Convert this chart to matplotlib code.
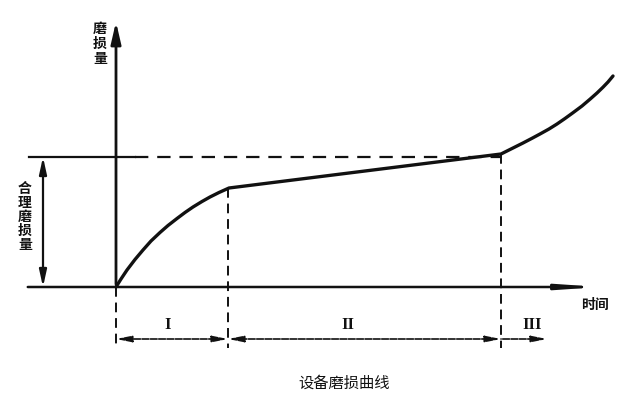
import matplotlib.pyplot as plt

plt.rcParams['font.family'] = ['Noto Sans CJK SC', 'DejaVu Sans']

# 曲线数据（时间, 磨损量）
t_I = [0, 5, 11, 19, 27, 35, 44, 52, 61, 69, 77, 86, 94, 103, 113]
w_I = [0, 8, 17, 27.5, 37, 46, 54.5, 61.5, 68.5, 74.5, 80, 85.5, 90, 94.5, 99]
t_II = [113, 385]
w_II = [99, 133]
t_III = [385, 391, 399, 407, 416, 424, 433, 441, 449, 457, 466, 474, 481, 487, 492, 497]
w_III = [133, 136, 140, 144, 148.7, 153, 158, 163, 168.5, 174.3, 181, 187.8, 194, 199.8, 205, 211]

w_limit = 130          # 合理磨损量
t_bounds = [0, 112, 385]
t_end = 431
dim_y = -52
phase_labels = ['I', 'II', 'III']
phase_x = [52, 232, 416]

fig = plt.figure(figsize=(6.4, 3.98), dpi=100)
ax = fig.add_axes([0, 0, 1, 1])
ax.set_xlim(-116, 524)
ax.set_ylim(-111, 287)
ax.axis('off')

k = '#111111'

# 磨损曲线
ax.plot(t_I + t_II[1:] + t_III[1:], w_I + w_II[1:] + w_III[1:], color=k, lw=2.4,
        solid_capstyle='round', solid_joinstyle='round')

# 坐标轴
ax.annotate('', xy=(0, 268), xytext=(0, 0),
            arrowprops=dict(arrowstyle='-|>,head_length=1.3,head_width=0.3', color=k, lw=2))
ax.annotate('', xy=(487, 0), xytext=(-91, 0),
            arrowprops=dict(arrowstyle='-|>,head_length=2.2,head_width=0.15', color=k, lw=1.8))

# 合理磨损量线
ax.plot([-87, 19], [w_limit, w_limit], color=k, lw=1.6)
ax.plot([19, t_bounds[2]], [w_limit, w_limit], color=k, lw=1.6, ls=(0, (6, 4)))
ax.annotate('', xy=(-73, w_limit), xytext=(-73, 0),
            arrowprops=dict(arrowstyle='<|-|>,head_length=1.0,head_width=0.22', color=k, lw=1.6,
                            shrinkA=0, shrinkB=0))

# 分界虚线
ax.plot([0, 0], [0, -61], color=k, lw=1.4, ls=(0, (5, 3)))
ax.plot([t_bounds[1]] * 2, [w_I[-1], -61], color=k, lw=1.4, ls=(0, (5, 3)))
ax.plot([t_bounds[2]] * 2, [w_II[-1], -61], color=k, lw=1.4, ls=(0, (5, 3)))

# 阶段尺寸线
edges = t_bounds + [t_end]
for i in range(3):
    style = '<|-|>,head_length=0.9,head_width=0.18'
    if i == 2:
        style = '<|-,head_length=0.9,head_width=0.18'
    ax.annotate('', xy=(edges[i], dim_y), xytext=(edges[i + 1], dim_y),
                arrowprops=dict(arrowstyle=style, color=k, lw=1.2, shrinkA=0, shrinkB=0,
                                ls=(0, (4, 1))))
    ax.text(phase_x[i], dim_y + 14, phase_labels[i], family='Liberation Serif', fontsize=12,
            fontweight='bold', ha='center', va='center', color=k)

# 文字
ax.text(-16, 243, '磨\n损\n量', fontsize=10, fontweight='bold', ha='center', va='center',
        linespacing=1.05, color=k)
ax.text(-91, 70, '合\n理\n磨\n损\n量', fontsize=10, fontweight='bold', ha='center', va='center',
        linespacing=1.0, color=k)
ax.text(479, -18, '时间', fontsize=10, fontweight='bold', ha='center', va='center', color=k)
ax.text(228, -96, '设备磨损曲线', fontsize=11, ha='center', va='center', color=k)

fig.savefig('out.png', dpi=100)
